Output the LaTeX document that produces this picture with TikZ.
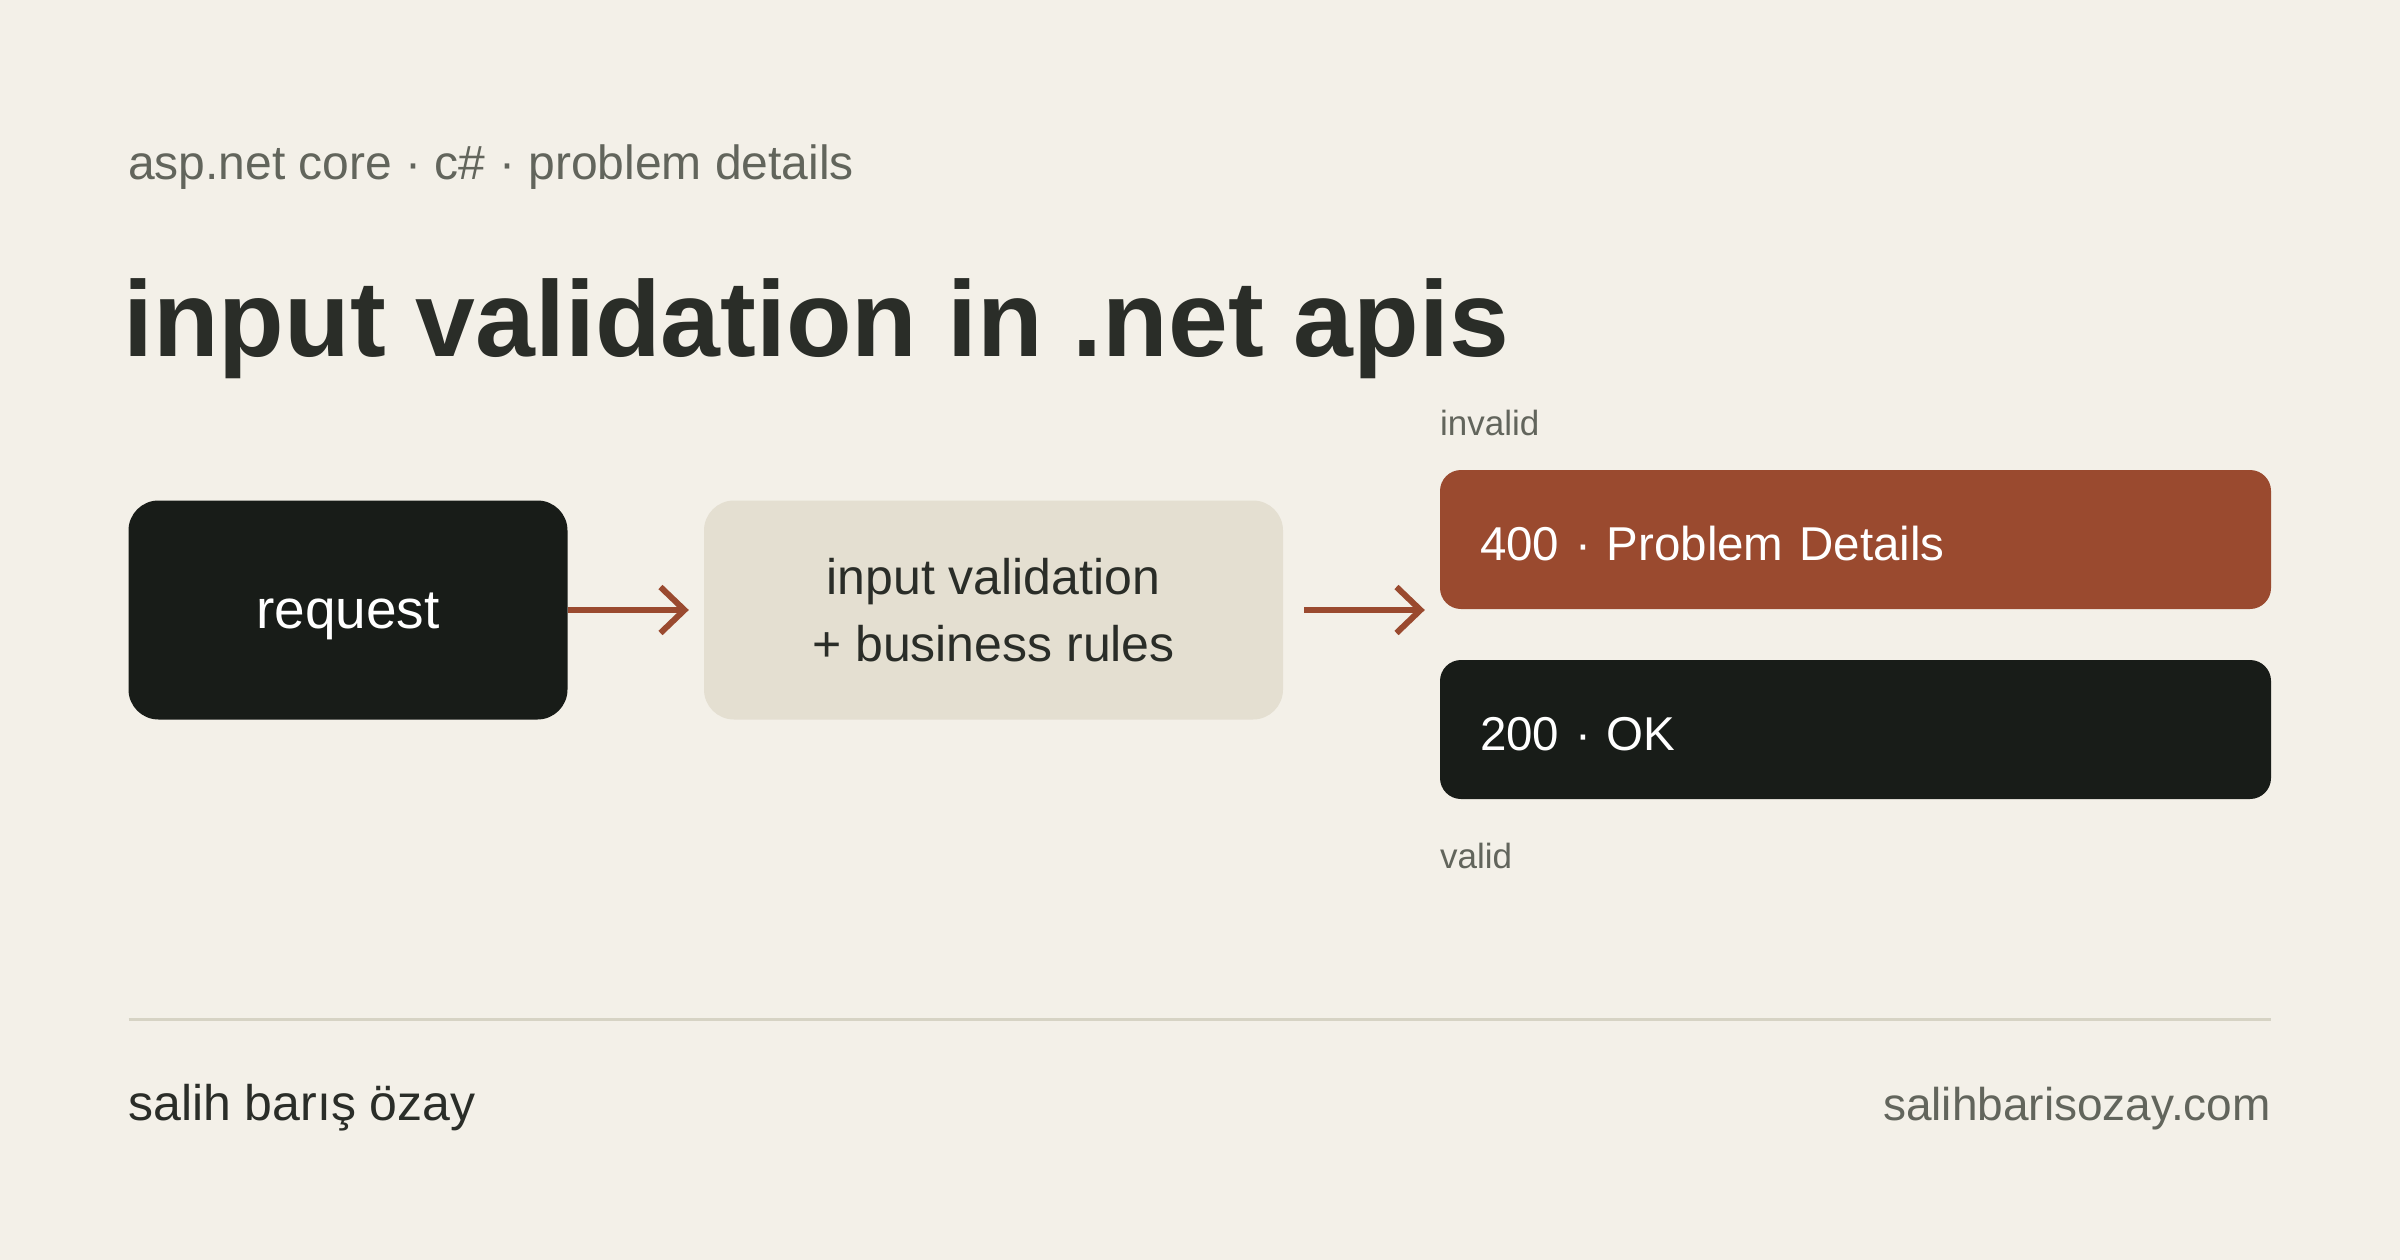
\documentclass[tikz,border=0pt]{standalone}
\usepackage{fontspec}
\setmainfont{Liberation Sans}
\usetikzlibrary{arrows.meta}
\definecolor{bg}{HTML}{F3F0E8}
\definecolor{dark}{HTML}{181C18}
\definecolor{rust}{HTML}{9A4A2F}
\definecolor{beige}{HTML}{E4DFD1}
\definecolor{ink}{HTML}{2A2D28}
\definecolor{muted}{HTML}{62655C}
\definecolor{rule}{HTML}{D6D3C4}
\begin{document}
\begin{tikzpicture}[x=1pt,y=-1pt,
  txt/.style={inner sep=0pt, anchor=base west},
  bigbox/.style={rectangle, rounded corners=30pt, inner sep=0pt, minimum width=#1, minimum height=219pt},
  resbox/.style={rectangle, rounded corners=21pt, minimum width=831pt, minimum height=139pt,
     text width=751pt, align=left, inner xsep=40pt, inner ysep=0pt, text height=41pt, text depth=0pt,
     text=white, font=\fontsize{47.5}{58}\selectfont},
  arr/.style={draw=rust, line width=6pt, -{Straight Barb[length=24pt, width=46pt]}}
]
\fill[bg] (0,0) rectangle (2400,1260);
\useasboundingbox (0,0) rectangle (2400,1260);

\node[txt, text=muted, font=\fontsize{48}{58}\selectfont] (sub) at (128,180) {asp.net core · c\# · problem details};
\node[txt, text=ink, font=\fontsize{107.5}{120}\selectfont\bfseries] (title) at (123,356) {input validation in .net apis};

\node[bigbox=439pt, fill=dark, text=white, text height=36pt, text depth=0pt, font=\fontsize{55}{64}\selectfont] (req) at (348,610) {request};
\node[bigbox=579pt, fill=beige, text=ink, align=center, text height=103pt, text depth=0pt, font=\fontsize{50}{67}\selectfont] (mid) at (993.5,610) {input validation\\+ business rules};

\node[resbox, fill=rust] (bad) at (1855.5,539.5) {400 · Problem Details};
\node[resbox, fill=dark] (ok) at (1855.5,729.5) {200 · OK};

\node[txt, text=muted, font=\fontsize{35}{42}\selectfont] (invalid) at (1440,435) {invalid};
\node[txt, text=muted, font=\fontsize{35}{42}\selectfont] (valid) at (1440,868) {valid};

\draw[arr, shorten >=15pt] (req.east) -- (mid.west);
\draw[arr, shorten <=21pt, shorten >=15pt] (mid.east) -- (mid.east -| bad.west);

\coordinate (ruleL) at (128.6,1019);
\coordinate (ruleR) at (2271,1019);
\draw[rule, line width=3pt] (ruleL) -- (ruleR);

\node[txt, text=ink, font=\fontsize{50}{60}\selectfont] (author) at (128,1120) {salih barış özay};
\node[inner sep=0pt, anchor=base east, text=muted, font=\fontsize{46}{56}\selectfont] (site) at (2271,1120) {salihbarisozay.com};
\end{tikzpicture}
\end{document}
